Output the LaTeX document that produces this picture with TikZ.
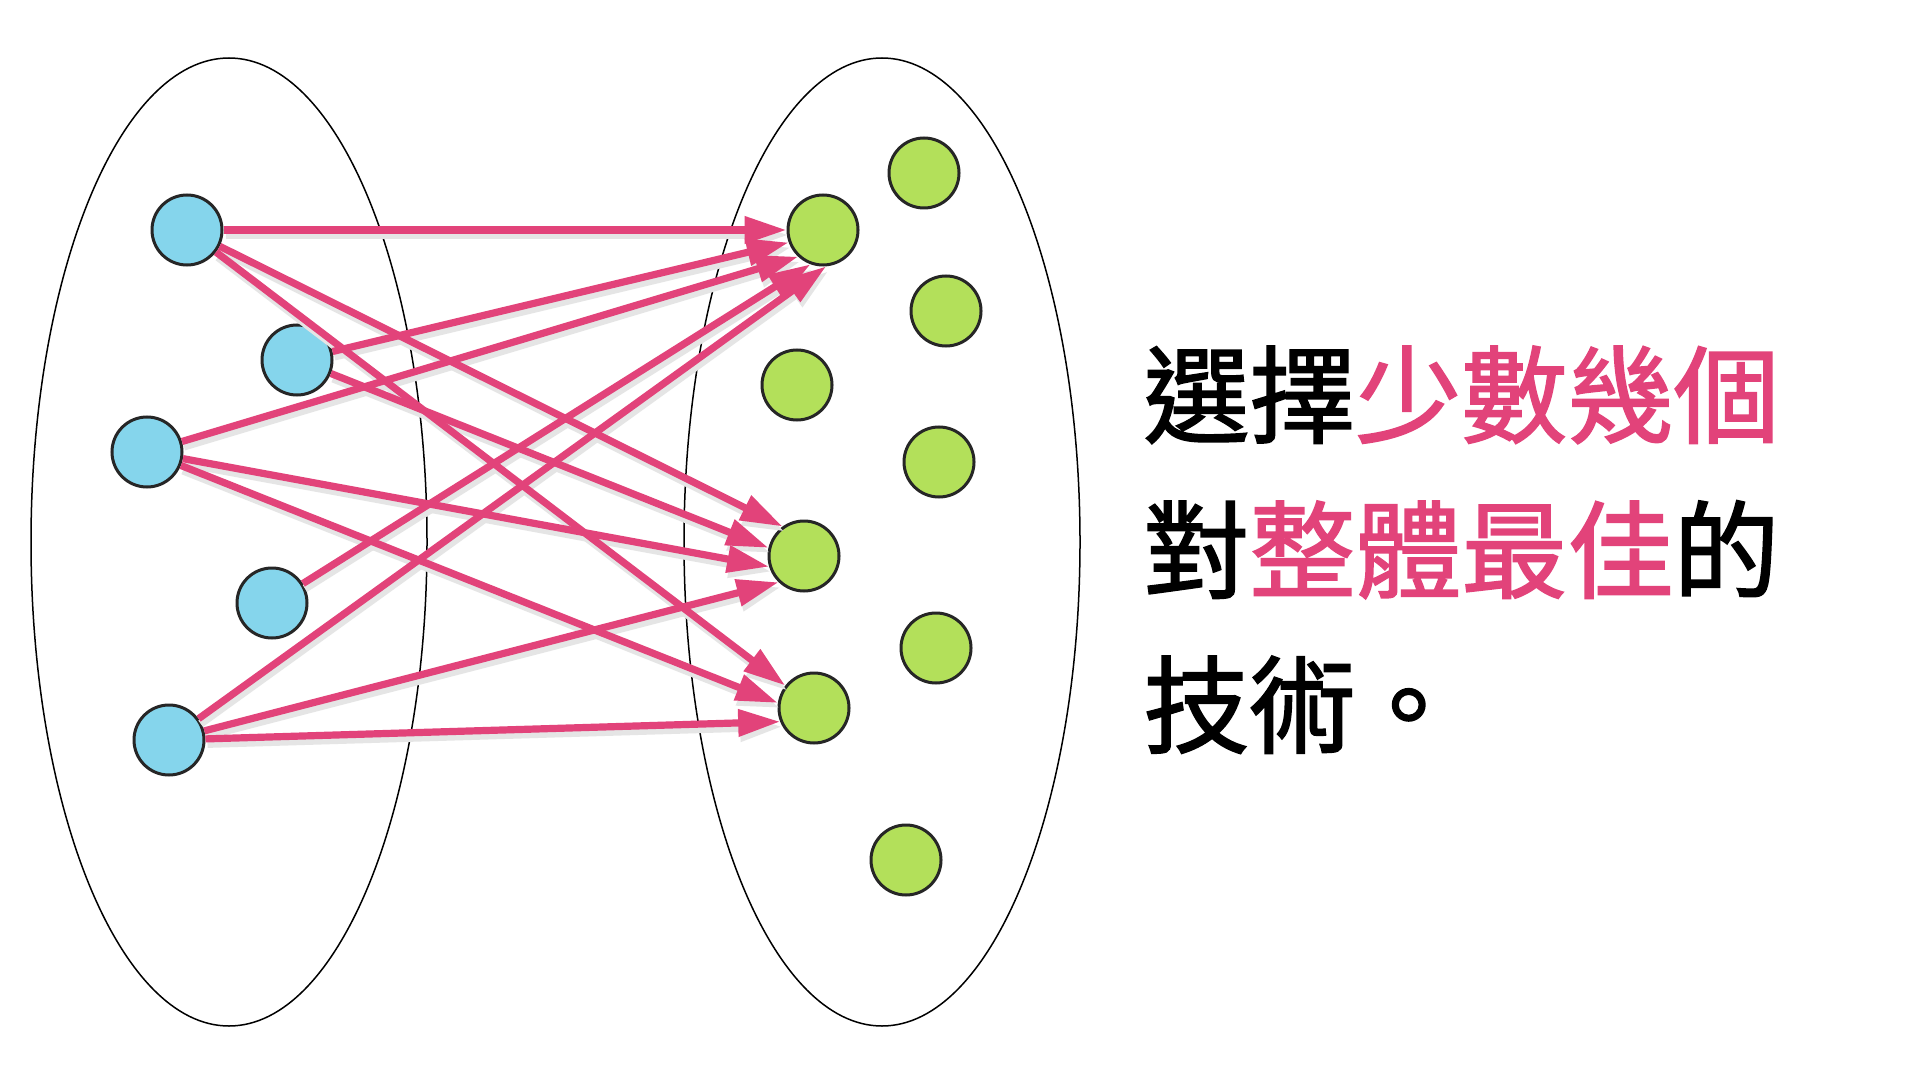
\documentclass[tikz,border=0pt]{standalone}
\usepackage{fontspec}
\usepackage{xcolor}
\newfontfamily\cjk{Noto Sans CJK TC}[FakeBold=1.6]
\usetikzlibrary{arrows.meta}
\definecolor{hlpink}{HTML}{E2437A}
\definecolor{srcblue}{HTML}{85D5EC}
\definecolor{dstgreen}{HTML}{B3E05A}

\begin{document}
\begin{tikzpicture}[x=0.5pt, y=-0.5pt,
    src/.style={circle, draw=black!85, line width=1.5pt, fill=srcblue, minimum size=35pt, inner sep=0pt},
    dst/.style={circle, draw=black!85, line width=1.5pt, fill=dstgreen, minimum size=35pt, inner sep=0pt},
    link/.style={draw=hlpink, line width=3.6pt, -{Triangle[length=21pt, width=13pt]}},
    linkshade/.style={draw=black!10, line width=4pt, -{Triangle[length=21pt, width=13pt]}, transform canvas={shift={(1pt,-2.5pt)}}},
    textline/.style={font=\cjk\fontsize{53pt}{60pt}\selectfont, anchor=base west, inner sep=0pt}]
      \fill[white] (0,0) rectangle (1920,1080);
      \useasboundingbox (0,0) rectangle (1920,1080);

      % Sets
      \draw[line width=0.75pt] (229,542) ellipse [x radius=99pt, y radius=242pt];
      \draw[line width=0.75pt] (882,542) ellipse [x radius=99pt, y radius=242pt];

      % Nodes
      \node[src] (b1) at (187,230) {};
      \node[src] (b2) at (297,360) {};
      \node[src] (b3) at (147,452) {};
      \node[src] (b4) at (272,603) {};
      \node[src] (b5) at (169,740) {};

      \node[dst] (g0) at (924,173) {};
      \node[dst] (g1) at (823,230) {};
      \node[dst] (g2) at (946,311) {};
      \node[dst] (g3) at (797,385) {};
      \node[dst] (g4) at (939,462) {};
      \node[dst] (g5) at (804,556) {};
      \node[dst] (g6) at (936,648) {};
      \node[dst] (g7) at (814,708) {};
      \node[dst] (g8) at (906,860) {};

      % Edges
      \foreach \s/\t in {b1/g1, b1/g5.126, b1/g7.142, b2/g1.200, b2/g5.167, b3/g1.227,
                         b3/g5.197, b3/g7.172, b4/g1.250, b5/g1.275, b5/g5.226, b5/g7.202}
        \draw[linkshade] (\s) -- (\t);
      \foreach \s/\t in {b1/g1, b1/g5.126, b1/g7.142, b2/g1.200, b2/g5.167, b3/g1.227,
                         b3/g5.197, b3/g7.172, b4/g1.250, b5/g1.275, b5/g5.226, b5/g7.202}
        \draw[link] (\s) -- (\t);

      % Text
      \node[textline] (line1) at (1143,435) {選擇\textcolor{hlpink}{少數幾個}};
      \node[textline] (line2) at (1143,590) {對\textcolor{hlpink}{整體最佳}的};
      \node[textline] (line3) at (1143,745) {技術。};
    \end{tikzpicture}
\end{document}
